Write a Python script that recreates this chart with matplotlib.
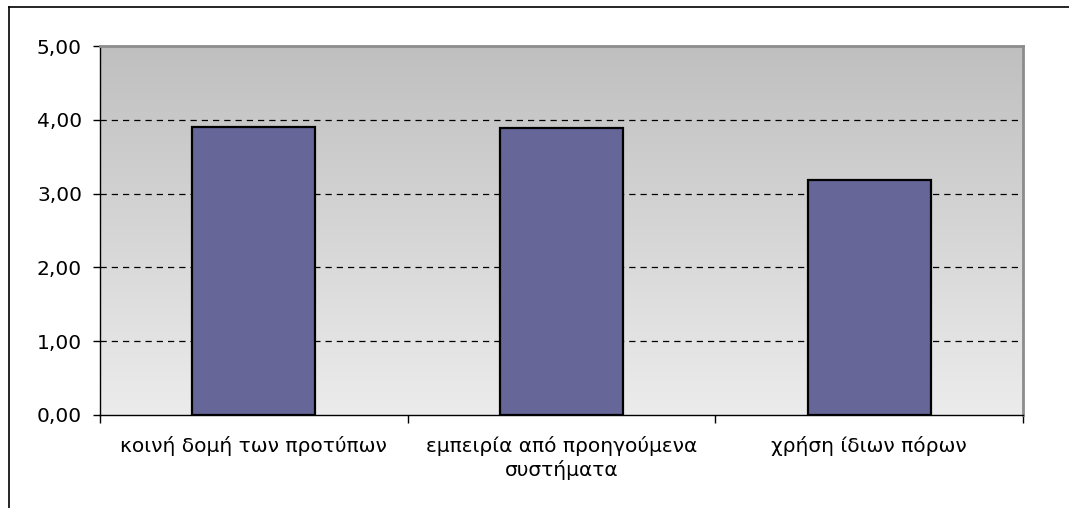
import numpy as np
import matplotlib
matplotlib.use("Agg")
from matplotlib import pyplot as plt
from matplotlib.lines import Line2D

# scores per category
categories = ["κοινή δομή των προτύπων", "εμπειρία από προηγούμενα\nσυστήματα", "χρήση ίδιων πόρων"]
scores = [3.90, 3.89, 3.18]
yticks = [0, 1, 2, 3, 4, 5]
ylabels = ["0,00", "1,00", "2,00", "3,00", "4,00", "5,00"]

plt.rcParams['font.family'] = ['DejaVu Sans']
W, H = 1069, 508
fig = plt.figure(figsize=(W / 100, H / 100), dpi=100)
ax = fig.add_axes([100 / W, 1 - 415 / H, 923 / W, 369 / H])

# outer chart frame (top and left edges only visible)
fig.add_artist(Line2D([9 / W, 1.0], [1 - 7 / H, 1 - 7 / H], transform=fig.transFigure, color='black', lw=1.2))
fig.add_artist(Line2D([9 / W, 9 / W], [0.0, 1 - 7 / H], transform=fig.transFigure, color='black', lw=1.2))

x = np.arange(len(categories))
ax.set_xlim(-0.5, len(categories) - 0.5)
ax.set_ylim(0, 5)

# grey gradient background, dark at top
grad = np.linspace(0, 1, 256).reshape(-1, 1)
top = np.array([0.75, 0.75, 0.75])
bot = np.array([0.925, 0.925, 0.925])
img = top + (bot - top) * grad[:, :, None] * np.ones((1, 1, 3))
ax.imshow(img, extent=[-0.5, len(categories) - 0.5, 0, 5], origin='upper',
          aspect='auto', zorder=0, interpolation='bilinear')

for yv in yticks[1:-1]:
    ax.axhline(yv, color='black', lw=0.9, ls=(0, (5, 4)), zorder=1)

ax.bar(x, scores, width=0.4, color='#666699', edgecolor='black', linewidth=1.6, zorder=2)

ax.set_yticks(yticks)
ax.set_yticklabels(ylabels, fontsize=14.5)
ax.tick_params(axis='y', direction='out', length=5, width=1, pad=8)

ax.set_xticks(np.arange(-0.5, len(categories), 1.0))
ax.set_xticklabels([])
ax.set_xticks(x, minor=True)
ax.set_xticklabels(categories, minor=True, fontsize=14.5, linespacing=1.25, va='top')
ax.tick_params(axis='x', which='major', direction='out', length=6, width=1)
ax.tick_params(axis='x', which='minor', length=0, pad=15)

for s in ['top', 'right']:
    ax.spines[s].set_color('#8c8c8c')
    ax.spines[s].set_linewidth(2)
for s in ['left', 'bottom']:
    ax.spines[s].set_color('black')
    ax.spines[s].set_linewidth(1)

fig.savefig('out.png', dpi=100, facecolor='white')
